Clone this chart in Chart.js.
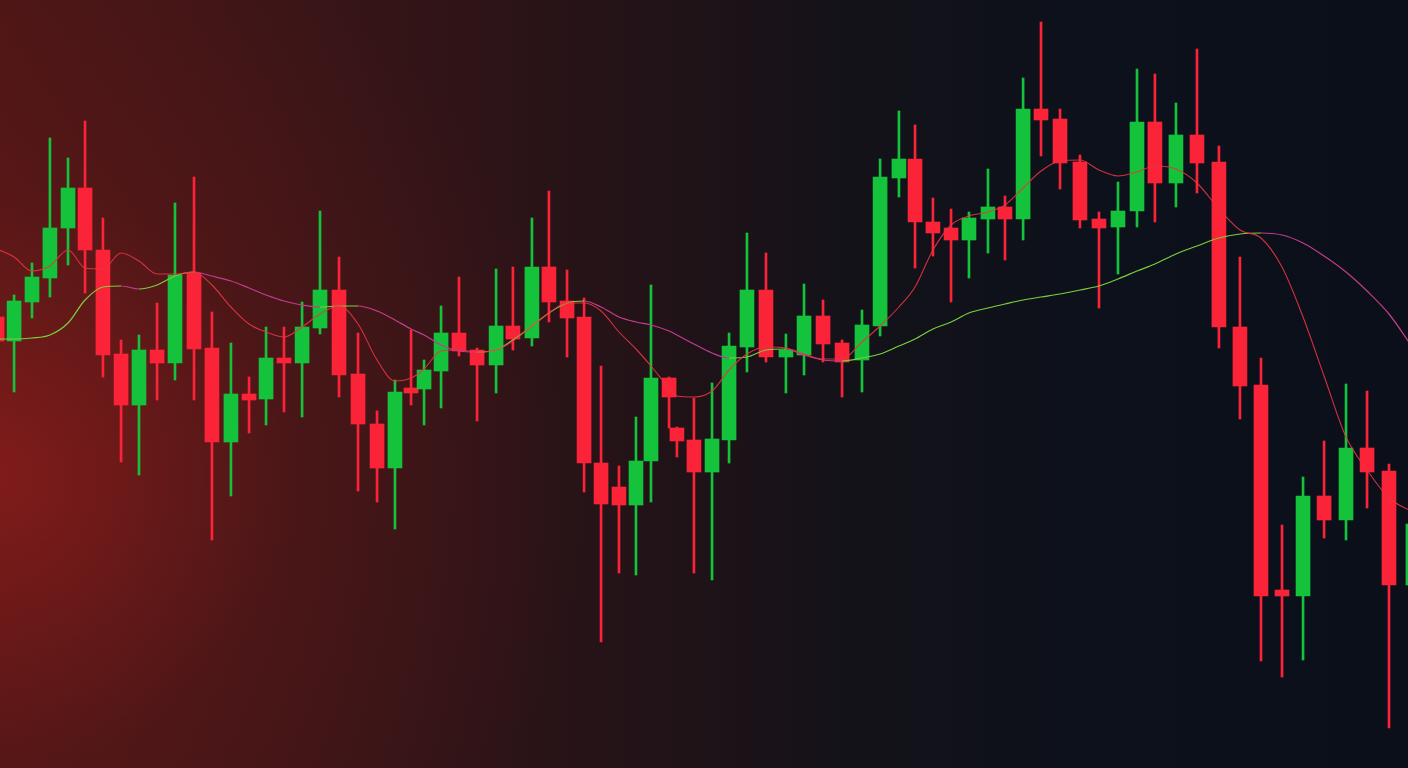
<!DOCTYPE html>
<html>
<head>
<meta charset="utf-8">
<title>Candles</title>
<script src="https://cdn.jsdelivr.net/npm/chart.js@4.4.1/dist/chart.umd.min.js"></script>
<style>
  html, body { margin: 0; padding: 0; }
  body {
    width: 1408px; height: 768px; overflow: hidden;
    background:
      radial-gradient(ellipse 42% 75% at 0% 62%, rgba(150,30,28,0.7) 0%, rgba(110,24,24,0.3) 50%, rgba(0,0,0,0) 100%),
      linear-gradient(90deg, #4c1616 0%, #3b1517 20%, #261317 42%, #141219 60%, #0c111b 78%, #0a0f19 100%);
  }
  #wrap { position: relative; width: 1408px; height: 768px; }
</style>
</head>
<body>
<div id="wrap"><canvas id="candleChart"></canvas></div>
<script>
// waktu (sesi) tiap candle
const times = [-0.16, 0.77, 1.75, 2.73, 3.72, 4.65, 5.63, 6.62, 7.60, 8.59,
  9.57, 10.61, 11.59, 12.63, 13.62, 14.55, 15.53, 16.52, 17.50, 18.54,
  19.58, 20.62, 21.60, 22.48, 23.19, 24.12, 25.10, 26.09, 27.13, 28.05,
  29.09, 30.02, 31.01, 31.94, 32.87, 33.85, 34.78, 35.60, 36.59, 37.02,
  37.95, 38.94, 39.87, 40.85, 41.89, 42.98, 43.97, 45.01, 46.05, 47.14,
  48.13, 49.16, 50.04, 51.02, 52.01, 52.99, 54.03, 54.96, 55.95, 56.93,
  57.97, 59.06, 60.10, 61.14, 62.18, 63.16, 64.31, 65.46, 66.66, 67.81,
  68.96, 70.11, 71.26, 72.41, 73.61, 74.76, 75.96, 77.27];

const opens = [85.1, 82.7, 86.6, 89.0, 94.0, 98.0, 91.8, 81.4, 76.3, 81.8,
  80.5, 89.5, 82.0, 72.6, 77.4, 76.9, 81.0, 80.5, 84.0, 87.8,
  79.4, 74.4, 70.0, 78.0, 77.9, 79.7, 83.5, 81.8, 80.3, 84.2,
  83.0, 90.1, 86.7, 85.1, 70.5, 68.1, 66.3, 70.7, 79.0, 74.0,
  72.8, 69.6, 72.8, 82.1, 87.8, 81.1, 81.3, 85.2, 82.5, 80.8,
  84.2, 99.0, 100.9, 94.6, 94.0, 92.8, 94.9, 96.1, 94.9, 105.9,
  104.9, 100.6, 94.9, 94.1, 95.7, 104.6, 98.5, 103.3, 100.6, 84.1,
  78.3, 57.8, 57.2, 67.2, 64.8, 72.0, 69.7, 58.3];

const highs = [86.3, 87.3, 90.5, 103.0, 101.0, 104.7, 95.0, 82.8, 83.3, 86.5,
  96.5, 99.1, 85.6, 82.5, 79.1, 84.1, 84.1, 86.6, 95.7, 91.1,
  83.5, 75.7, 78.8, 83.8, 80.8, 86.2, 89.1, 82.0, 89.9, 90.1,
  95.0, 97.7, 89.8, 87.0, 80.2, 70.2, 75.1, 88.3, 79.1, 74.1,
  77.0, 78.5, 83.5, 93.5, 91.5, 83.4, 88.4, 86.8, 82.8, 85.8,
  100.9, 105.7, 104.3, 97.0, 95.9, 95.6, 99.9, 97.2, 109.0, 114.6,
  105.9, 101.3, 95.6, 98.6, 109.9, 109.4, 106.5, 111.9, 102.2, 91.1,
  81.0, 64.3, 69.1, 72.7, 78.4, 77.7, 70.4, 65.8];

const lows = [81.6, 77.6, 85.0, 87.1, 90.3, 87.5, 79.1, 70.6, 69.3, 76.8,
  78.8, 76.8, 62.8, 67.2, 73.5, 74.3, 75.6, 75.1, 83.4, 77.1,
  67.7, 66.6, 63.9, 76.3, 74.3, 76.0, 81.2, 74.7, 77.5, 81.8,
  82.2, 84.6, 81.1, 67.6, 52.6, 59.5, 59.3, 66.6, 74.0, 71.1,
  59.5, 58.8, 70.5, 79.6, 80.6, 77.5, 79.3, 80.6, 77.1, 77.6,
  83.2, 97.1, 90.0, 91.2, 86.6, 89.0, 91.5, 90.8, 92.8, 101.2,
  97.9, 94.0, 86.0, 89.4, 94.1, 94.6, 96.1, 97.5, 82.0, 74.9,
  50.7, 49.1, 50.8, 63.0, 62.8, 66.0, 44.0, 56.8];

const closes = [82.7, 86.7, 89.1, 94.0, 98.0, 91.8, 81.3, 76.3, 81.8, 80.5,
  89.3, 81.9, 72.6, 77.4, 76.8, 81.0, 80.5, 84.1, 87.8, 79.3,
  74.4, 70.0, 77.6, 77.5, 79.8, 83.5, 81.7, 80.3, 84.2, 82.9,
  90.1, 86.6, 85.0, 70.5, 66.4, 66.3, 70.7, 79.0, 77.1, 72.7,
  69.6, 72.9, 82.2, 87.8, 81.1, 81.8, 85.2, 82.4, 80.6, 84.3,
  99.1, 100.9, 94.6, 93.5, 92.8, 95.0, 96.1, 94.9, 105.9, 104.8,
  100.5, 94.8, 94.0, 95.7, 104.6, 98.5, 103.3, 100.5, 84.1, 78.2,
  57.2, 57.2, 67.2, 64.8, 72.0, 69.6, 58.3, 64.4];

// moving average cepat & lambat
const maFast = [91.9, 91.1, 89.7, 90.2, 91.8, 90.0, 89.9, 91.5, 90.7, 89.4,
  89.4, 89.6, 88.3, 86.1, 84.4, 83.6, 83.1, 84.1, 85.4, 86.2,
  84.4, 80.8, 78.7, 79.0, 79.9, 81.7, 81.8, 81.6, 81.8, 82.7,
  84.2, 85.5, 86.5, 86.5, 85.7, 83.6, 81.9, 80.2, 78.0, 77.2,
  77.1, 77.7, 79.8, 81.4, 82.1, 82.0, 81.4, 80.9, 80.9, 82.6,
  84.2, 86.1, 88.1, 91.8, 94.3, 95.2, 95.6, 96.3, 98.0, 99.7,
  100.7, 100.8, 99.8, 99.2, 99.6, 100.2, 99.9, 98.5, 95.9, 93.8,
  93.0, 90.1, 85.1, 79.2, 73.1, 69.8, 67.0, 65.6];

const maSlow = [82.9, 82.9, 83.0, 83.3, 84.5, 86.8, 88.1, 88.2, 87.9, 88.3,
  89.2, 89.6, 89.2, 88.7, 88.0, 87.3, 86.7, 86.3, 86.1, 86.2,
  86.2, 85.7, 84.8, 83.9, 83.3, 82.3, 81.7, 81.6, 81.8, 82.8,
  84.2, 85.5, 86.5, 86.7, 86.1, 85.1, 84.6, 84.3, 83.7, 83.3,
  82.4, 81.5, 81.0, 81.1, 81.8, 81.9, 81.3, 80.8, 80.7, 81.0,
  81.4, 82.2, 82.9, 83.9, 84.6, 85.5, 86.0, 86.4, 86.8, 87.1,
  87.4, 87.8, 88.2, 88.9, 89.7, 90.4, 91.4, 92.2, 93.0, 93.4,
  93.5, 93.3, 92.5, 91.2, 89.6, 87.7, 85.4, 82.0];

const UP = '#14c23c';
const DOWN = '#fb2338';

function candleColor(ctx) {
    const i = ctx.dataIndex;
    return closes[i] >= opens[i] ? UP : DOWN;
}

function renderChart() {
    const ctx = document.getElementById('candleChart').getContext('2d');

    new Chart(ctx, {
        type: 'bar',
        data: {
            datasets: [
                {
                    type: 'line',
                    data: times.map((t, i) => ({ x: t, y: maFast[i] })),
                    borderColor: 'rgba(232, 52, 66, 0.9)',
                    borderWidth: 1.1,
                    pointRadius: 0,
                    cubicInterpolationMode: 'monotone',
                    order: 0
                },
                {
                    type: 'line',
                    data: times.map((t, i) => ({ x: t, y: maSlow[i] })),
                    borderColor: '#7ccf3c',
                    borderWidth: 1.2,
                    pointRadius: 0,
                    cubicInterpolationMode: 'monotone',
                    // naik = hijau, turun = magenta
                    segment: {
                        borderColor: c => c.p1.parsed.y >= c.p0.parsed.y ? '#7ccf3c' : '#c23c8e'
                    },
                    order: 0
                },
                {
                    // badan candle
                    data: times.map((t, i) => ({ x: t, y: [opens[i], closes[i]] })),
                    backgroundColor: candleColor,
                    barThickness: 14,
                    grouped: false,
                    order: 1
                },
                {
                    // sumbu (wick)
                    data: times.map((t, i) => ({ x: t, y: [lows[i], highs[i]] })),
                    backgroundColor: candleColor,
                    barThickness: 2,
                    grouped: false,
                    order: 2
                }
            ]
        },
        options: {
            responsive: true,
            maintainAspectRatio: false,
            animation: false,
            devicePixelRatio: 1,
            layout: { padding: 0 },
            plugins: {
                legend: { display: false },
                tooltip: { enabled: false }
            },
            scales: {
                x: { type: 'linear', min: 0, max: 77, offset: false, display: false },
                y: { min: 40, max: 116.8, display: false }
            }
        }
    });
}

window.onload = () => {
    renderChart();
};
</script>
</body>
</html>
